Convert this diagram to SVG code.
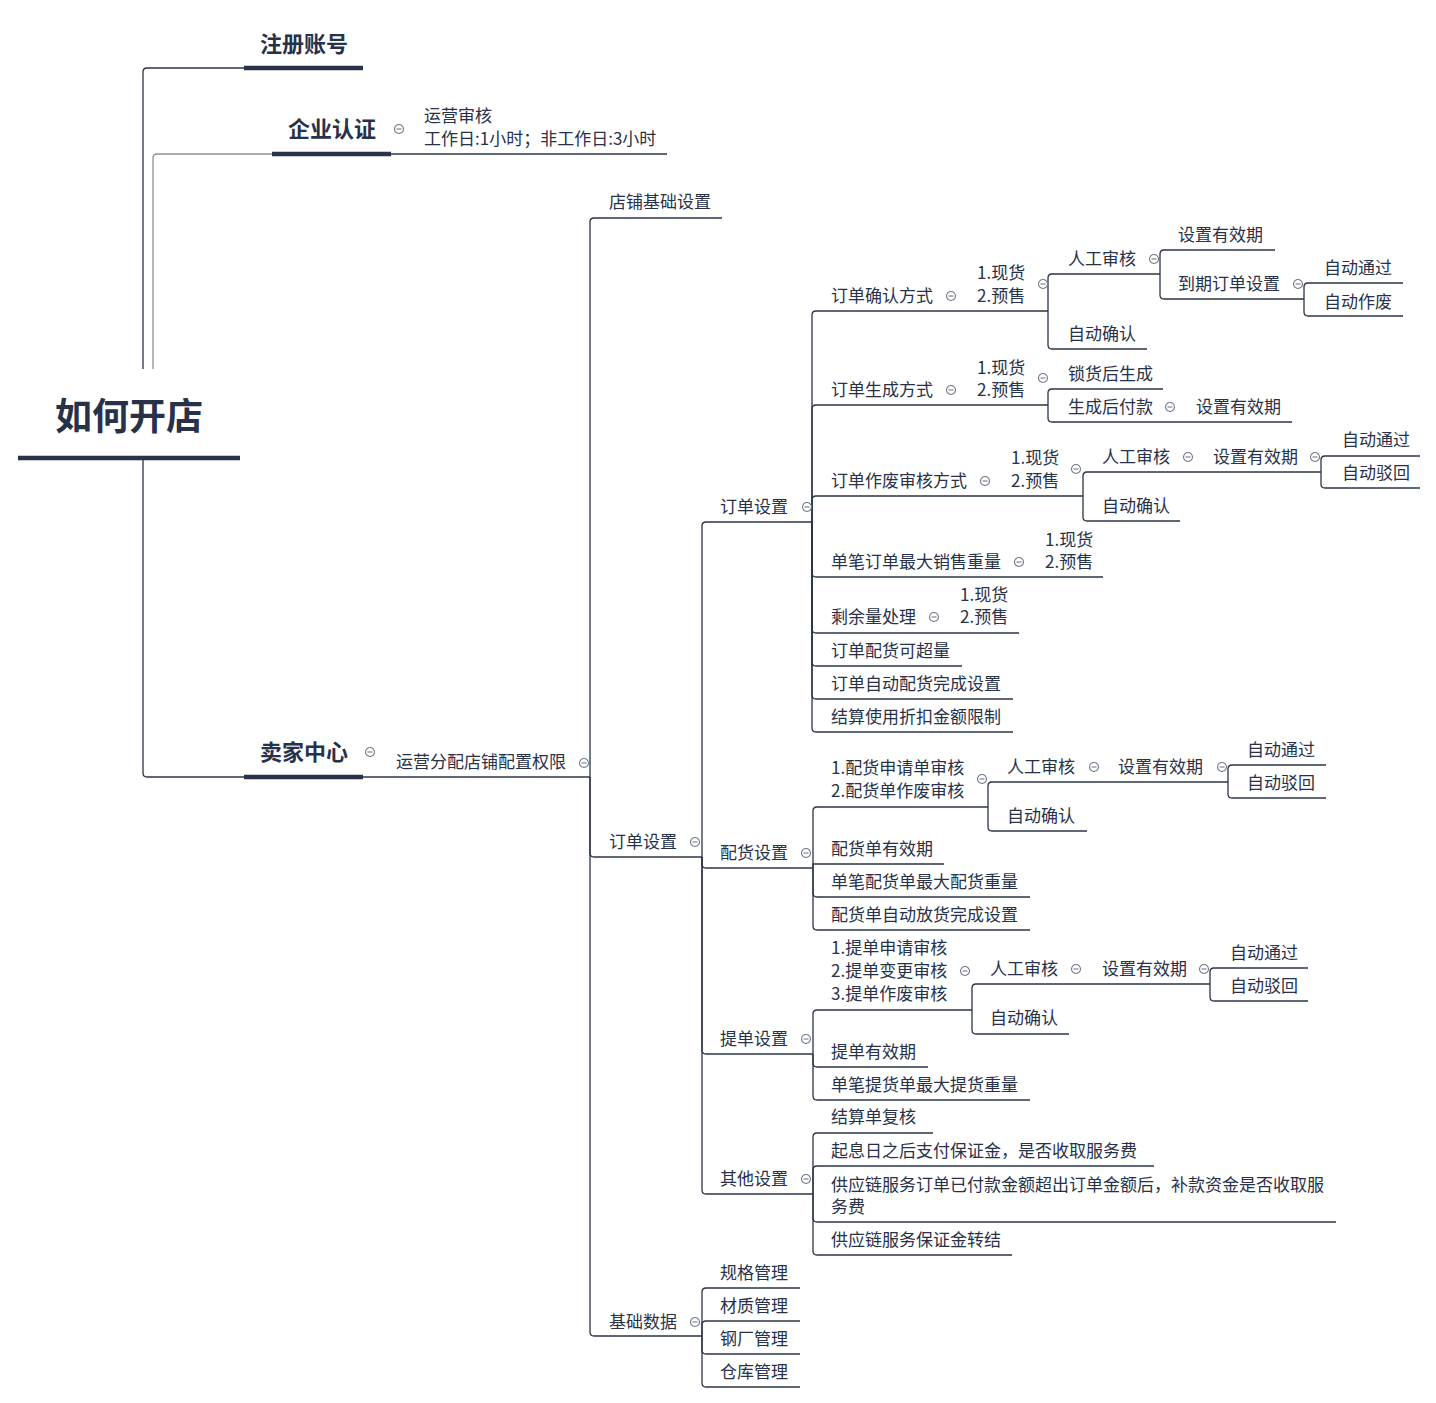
<svg xmlns="http://www.w3.org/2000/svg" xmlns:xlink="http://www.w3.org/1999/xlink" width="1436" height="1403" viewBox="0 0 1436 1403">
<style>
text{font-family:"Noto Sans CJK SC","Noto Sans",sans-serif;fill:#27314a;dominant-baseline:central;font-size:17px;transform:translate(0px,-1.5px)}
.root{font-size:37px;font-weight:bold;transform:translate(0px,-2px)}
.l1{font-size:22px;font-weight:bold;transform:translate(0px,-2px)}
.thick{stroke:#283249;stroke-width:4.5;fill:none}
.c path{stroke:#2b3447;stroke-width:1.3;fill:none}
.c path.light{stroke:#8d929e}
</style>
<defs>
<g id="col"><circle r="4.5" fill="#fff" stroke="#737988" stroke-width="1.1"/><line x1="-2.5" y1="0" x2="2.5" y2="0" stroke="#737988" stroke-width="1.1"/></g>
</defs>
<rect width="1436" height="1403" fill="#fff"/>
<g class="c" id="connectors">
<path d="M143,369 V72 Q143,68 147,68 H244"/>
<path class="light" d="M153,369 V158 Q153,154 157,154 H272"/>
<path d="M143,460 V773 Q143,777 147,777 H244"/>
<path d="M391,154 H667"/>
<path d="M363,777 H590"/>
<path d="M590,777 V222 Q590,218 594,218 H722"/>
<path d="M590,777 V853 Q590,857 594,857 H702"/>
<path d="M590,777 V1332 Q590,1336 594,1336 H702"/>
<path d="M702,857 V526 Q702,522 706,522 H812"/>
<path d="M702,857 V864 Q702,868 706,868 H813"/>
<path d="M702,857 V1050 Q702,1054 706,1054 H813"/>
<path d="M702,857 V1190 Q702,1194 706,1194 H813"/>
<path d="M702,1336 V1292 Q702,1288 706,1288 H800"/>
<path d="M702,1336 V1325 Q702,1321 706,1321 H800"/>
<path d="M702,1336 V1350 Q702,1354 706,1354 H800"/>
<path d="M702,1336 V1383 Q702,1387 706,1387 H800"/>
<path d="M812,522 V315 Q812,311 816,311 H1048"/>
<path d="M812,522 V409 Q812,405 816,405 H1048"/>
<path d="M812,522 V500 Q812,496 816,496 H1083"/>
<path d="M812,522 V573 Q812,577 816,577 H1103"/>
<path d="M812,522 V629 Q812,633 816,633 H1019"/>
<path d="M812,522 V662 Q812,666 816,666 H962"/>
<path d="M812,522 V695 Q812,699 816,699 H1013"/>
<path d="M812,522 V728 Q812,732 816,732 H1013"/>
<path d="M1048,311 V278 Q1048,274 1052,274 H1160"/>
<path d="M1048,311 V345 Q1048,349 1052,349 H1147"/>
<path d="M1160,274 V254 Q1160,250 1164,250 H1275"/>
<path d="M1160,274 V295 Q1160,299 1164,299 H1304"/>
<path d="M1304,299 V287 Q1304,283 1308,283 H1403"/>
<path d="M1304,299 V312 Q1304,316 1308,316 H1403"/>
<path d="M1048,405 V393 Q1048,389 1052,389 H1163"/>
<path d="M1048,405 V418 Q1048,422 1052,422 H1180"/>
<path d="M1180,422 H1292"/>
<path d="M1083,496 V476 Q1083,472 1087,472 H1195"/>
<path d="M1195,472 H1321"/>
<path d="M1083,496 V517 Q1083,521 1087,521 H1180"/>
<path d="M1321,472 V460 Q1321,456 1325,456 H1420"/>
<path d="M1321,472 V484 Q1321,488 1325,488 H1420"/>
<path d="M813,868 V811 Q813,807 817,807 H988"/>
<path d="M813,868 V864 H944"/>
<path d="M813,868 V893 Q813,897 817,897 H1030"/>
<path d="M813,868 V926 Q813,930 817,930 H1030"/>
<path d="M988,807 V786 Q988,782 992,782 H1100"/>
<path d="M1100,782 H1228"/>
<path d="M988,807 V827 Q988,831 992,831 H1087"/>
<path d="M1228,782 V769 Q1228,765 1232,765 H1326"/>
<path d="M1228,782 V794 Q1228,798 1232,798 H1326"/>
<path d="M813,1054 V1014 Q813,1010 817,1010 H972"/>
<path d="M813,1054 V1063 Q813,1067 817,1067 H928"/>
<path d="M813,1054 V1096 Q813,1100 817,1100 H1030"/>
<path d="M972,1010 V988 Q972,984 976,984 H1083"/>
<path d="M1083,984 H1210"/>
<path d="M972,1010 V1030 Q972,1034 976,1034 H1069"/>
<path d="M1210,984 V972 Q1210,968 1214,968 H1308"/>
<path d="M1210,984 V997 Q1210,1001 1214,1001 H1308"/>
<path d="M813,1194 V1137 Q813,1133 817,1133 H933"/>
<path d="M813,1194 V1170 Q813,1166 817,1166 H1154"/>
<path d="M813,1194 V1218 Q813,1222 817,1222 H1336"/>
<path d="M813,1194 V1251 Q813,1255 817,1255 H1012"/>
</g>
<g id="n-root"><text class="root" x="55" y="416">如何开店</text><line class="thick" x1="18" y1="458" x2="240" y2="458"/></g>
<g id="n-zhuce"><text class="l1" x="260" y="44">注册账号</text><line class="thick" x1="244" y1="68" x2="363" y2="68"/></g>
<g id="n-qiye"><text class="l1" x="288" y="129">企业认证</text><line class="thick" x1="272" y1="154" x2="391" y2="154"/><use href="#col" x="399" y="129"/></g>
<g id="n-yunying"><text x="424" y="116">运营审核</text><text x="424" y="139">工作日:1小时；非工作日:3小时</text></g>
<g id="n-maijia"><text class="l1" x="260" y="752">卖家中心</text><line class="thick" x1="244" y1="777" x2="363" y2="777"/><use href="#col" x="370" y="752"/></g>
<g id="n-quanxian"><text x="396" y="762">运营分配店铺配置权限</text><use href="#col" x="584" y="763"/></g>
<g id="n-dianpu"><text x="609" y="202">店铺基础设置</text></g>
<g id="n-dingdan4"><text x="609" y="842">订单设置</text><use href="#col" x="695" y="842"/></g>
<g id="n-jichu"><text x="609" y="1322">基础数据</text><use href="#col" x="695" y="1322"/></g>
<g id="n-guige"><text x="720" y="1273">规格管理</text></g>
<g id="n-caizhi"><text x="720" y="1306">材质管理</text></g>
<g id="n-gangchang"><text x="720" y="1339">钢厂管理</text></g>
<g id="n-cangku"><text x="720" y="1372">仓库管理</text></g>
<g id="n-dingdan5"><text x="720" y="507">订单设置</text><use href="#col" x="807" y="507"/></g>
<g id="n-peihuo"><text x="720" y="853">配货设置</text><use href="#col" x="806" y="853"/></g>
<g id="n-tidan"><text x="720" y="1039">提单设置</text><use href="#col" x="806" y="1039"/></g>
<g id="n-qita"><text x="720" y="1179">其他设置</text><use href="#col" x="806" y="1179"/></g>
<g id="n-queren"><text x="831" y="296">订单确认方式</text><use href="#col" x="951" y="296"/></g>
<g id="n-queren-t"><text x="977" y="273">1.现货</text><text x="977" y="296">2.预售</text><use href="#col" x="1043" y="284"/></g>
<g id="n-q-rengong"><text x="1068" y="259">人工审核</text><use href="#col" x="1154" y="259"/></g>
<g id="n-q-youxiao"><text x="1178" y="235">设置有效期</text></g>
<g id="n-q-daoqi"><text x="1178" y="284">到期订单设置</text><use href="#col" x="1298" y="284"/></g>
<g id="n-q-tongguo"><text x="1324" y="268">自动通过</text></g>
<g id="n-q-zuofei"><text x="1324" y="302">自动作废</text></g>
<g id="n-q-zidong"><text x="1068" y="334">自动确认</text></g>
<g id="n-shengcheng"><text x="831" y="390">订单生成方式</text><use href="#col" x="951" y="390"/></g>
<g id="n-shengcheng-t"><text x="977" y="368">1.现货</text><text x="977" y="390">2.预售</text><use href="#col" x="1043" y="378"/></g>
<g id="n-suohuo"><text x="1068" y="374">锁货后生成</text></g>
<g id="n-fukuan"><text x="1068" y="407">生成后付款</text><use href="#col" x="1170" y="407"/></g>
<g id="n-fukuan-yx"><text x="1196" y="407">设置有效期</text></g>
<g id="n-zuofei"><text x="831" y="481">订单作废审核方式</text><use href="#col" x="985" y="481"/></g>
<g id="n-zuofei-t"><text x="1011" y="458">1.现货</text><text x="1011" y="481">2.预售</text><use href="#col" x="1076" y="469"/></g>
<g id="n-z-rengong"><text x="1102" y="457">人工审核</text><use href="#col" x="1188" y="457"/></g>
<g id="n-z-youxiao"><text x="1213" y="457">设置有效期</text><use href="#col" x="1315" y="457"/></g>
<g id="n-z-tongguo"><text x="1342" y="440">自动通过</text></g>
<g id="n-z-bohui"><text x="1342" y="473">自动驳回</text></g>
<g id="n-z-zidong"><text x="1102" y="506">自动确认</text></g>
<g id="n-danbi"><text x="831" y="562">单笔订单最大销售重量</text><use href="#col" x="1019" y="562"/></g>
<g id="n-danbi-t"><text x="1045" y="540">1.现货</text><text x="1045" y="562">2.预售</text></g>
<g id="n-shengyu"><text x="831" y="617">剩余量处理</text><use href="#col" x="934" y="617"/></g>
<g id="n-shengyu-t"><text x="960" y="595">1.现货</text><text x="960" y="617">2.预售</text></g>
<g id="n-chaoliang"><text x="831" y="651">订单配货可超量</text></g>
<g id="n-wancheng"><text x="831" y="684">订单自动配货完成设置</text></g>
<g id="n-zhekou"><text x="831" y="717">结算使用折扣金额限制</text></g>
<g id="n-ph-shenhe"><text x="831" y="768">1.配货申请单审核</text><text x="831" y="791">2.配货单作废审核</text><use href="#col" x="982" y="779"/></g>
<g id="n-ph-rengong"><text x="1007" y="767">人工审核</text><use href="#col" x="1094" y="767"/></g>
<g id="n-ph-youxiao"><text x="1118" y="767">设置有效期</text><use href="#col" x="1222" y="767"/></g>
<g id="n-ph-tongguo"><text x="1247" y="750">自动通过</text></g>
<g id="n-ph-bohui"><text x="1247" y="783">自动驳回</text></g>
<g id="n-ph-zidong"><text x="1007" y="816">自动确认</text></g>
<g id="n-ph-yxq"><text x="831" y="849">配货单有效期</text></g>
<g id="n-ph-zuida"><text x="831" y="882">单笔配货单最大配货重量</text></g>
<g id="n-ph-fanghuo"><text x="831" y="915">配货单自动放货完成设置</text></g>
<g id="n-td-shenhe"><text x="831" y="948">1.提单申请审核</text><text x="831" y="971">2.提单变更审核</text><text x="831" y="994">3.提单作废审核</text><use href="#col" x="965" y="971"/></g>
<g id="n-td-rengong"><text x="990" y="969">人工审核</text><use href="#col" x="1076" y="969"/></g>
<g id="n-td-youxiao"><text x="1102" y="969">设置有效期</text><use href="#col" x="1204" y="969"/></g>
<g id="n-td-tongguo"><text x="1230" y="953">自动通过</text></g>
<g id="n-td-bohui"><text x="1230" y="986">自动驳回</text></g>
<g id="n-td-zidong"><text x="990" y="1018">自动确认</text></g>
<g id="n-td-yxq"><text x="831" y="1052">提单有效期</text></g>
<g id="n-td-zuida"><text x="831" y="1085">单笔提货单最大提货重量</text></g>
<g id="n-qt-fuhe"><text x="831" y="1117">结算单复核</text></g>
<g id="n-qt-qixi"><text x="831" y="1151">起息日之后支付保证金，是否收取服务费</text></g>
<g id="n-qt-bukuan"><text x="831" y="1185">供应链服务订单已付款金额超出订单金额后，补款资金是否收取服</text><text x="831" y="1207">务费</text></g>
<g id="n-qt-zhuanjie"><text x="831" y="1240">供应链服务保证金转结</text></g>
</svg>
